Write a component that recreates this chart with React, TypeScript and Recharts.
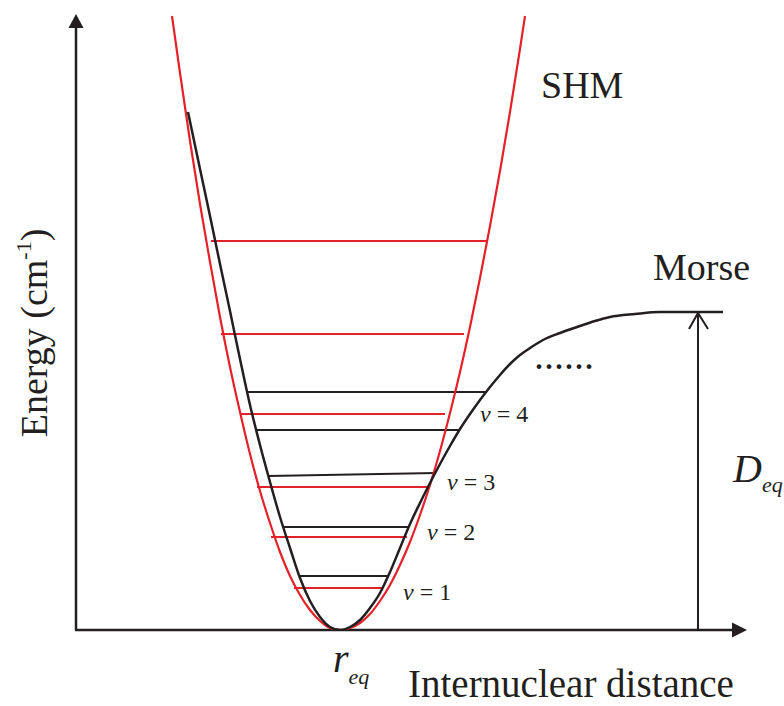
import React from "react";
import { LineChart, Line, XAxis, YAxis, ReferenceLine, ReferenceDot } from "recharts";

// x = internuclear distance (arbitrary units from the energy axis), e = energy (arbitrary units)
const shmX = [96, 104, 114, 124, 134, 144, 154, 164, 174, 184, 194, 204, 214, 224, 234, 244, 254, 264, 274, 284, 294, 304, 314, 324, 334, 344, 354, 364, 374, 384, 394, 404, 414, 424, 434, 444, 449];
const shmE = [614, 557, 489, 426, 368, 313, 263, 218, 176, 139, 107, 78, 54, 35, 20, 9, 2, 0, 2, 7, 16, 29, 45, 65, 88, 115, 145, 179, 217, 258, 303, 352, 404, 459, 518, 581, 614];

const morseX = [112, 124, 134, 144, 154, 164, 174, 184, 194, 204, 214, 224, 234, 244, 254, 264, 274, 284, 294, 304, 314, 324, 334, 344, 354, 364, 374, 384, 394, 404, 414, 424, 434, 444, 454, 467, 484, 501, 519, 534, 559, 584, 614, 647];
const morseE = [518, 461, 414, 366, 319, 271, 225, 185, 148, 113, 82, 52, 29, 13, 3, 0, 3, 10, 22, 37, 58, 82, 106, 127, 147, 166, 184, 201, 216, 230, 243, 255, 266, 275, 282, 290, 297, 303, 309, 313, 316, 318, 318, 318];

// SHM levels (red)
const shmLevelE = [389, 296, 216, 143, 93, 42];
const shmLevelLeft = [135, 145, 164, 181, 195, 218];
const shmLevelRight = [411, 388, 369, 352, 331, 307];

// Morse levels (black); left and right energies differ slightly as drawn
const morseLevelELeft = [238, 200, 154, 103, 54];
const morseLevelERight = [238, 200, 157, 103, 54];
const morseLevelLeft = [171, 180, 192, 207, 223];
const morseLevelRight = [411, 383, 360, 332, 312];

const dissociation = 317;
const vLevels = [4, 3, 2, 1];

const RED = "#e42128";
const INK = "#231f20";
const FONT = "'Liberation Serif', 'Times New Roman', serif";

const shmData = shmX.map((x, i) => ({ x, e: shmE[i] }));
const morseData = morseX.map((x, i) => ({ x, e: morseE[i] }));

const note = (key: string, x: number, y: number, content: React.ReactNode) => (
  <ReferenceDot
    key={key}
    x={x}
    y={y}
    r={0}
    ifOverflow="visible"
    shape={(p: any) => <g transform={`translate(${p.cx},${p.cy})`}>{content}</g>}
  />
);

const vPos: Record<number, [number, number]> = {
  4: [404, 208],
  3: [371, 140],
  2: [351, 90],
  1: [327, 30],
};

export default function App() {
  return (
    <div style={{ position: "absolute", left: 0, top: 0, background: "#fff" }}>
      <LineChart width={784} height={706} margin={{ top: 10, right: 8, bottom: 76, left: 76 }}>
        <XAxis type="number" dataKey="x" domain={[0, 700]} hide allowDataOverflow />
        <YAxis type="number" domain={[0, 620]} hide allowDataOverflow />

        {/* axes */}
        <ReferenceLine segment={[{ x: 0, y: 0 }, { x: 0, y: 603 }]} stroke={INK} strokeWidth={2.5} ifOverflow="visible" />
        <ReferenceLine segment={[{ x: -1, y: 0 }, { x: 658, y: 0 }]} stroke={INK} strokeWidth={2.5} ifOverflow="visible" />
        <ReferenceDot
          x={0}
          y={616}
          r={0}
          ifOverflow="visible"
          shape={(p: any) => (
            <path d={`M${p.cx},${p.cy} L${p.cx - 7.5},${p.cy + 14} L${p.cx + 7.5},${p.cy + 14} Z`} fill={INK} />
          )}
        />
        <ReferenceDot
          x={671}
          y={0}
          r={0}
          ifOverflow="visible"
          shape={(p: any) => (
            <path d={`M${p.cx},${p.cy} L${p.cx - 15},${p.cy - 7.5} L${p.cx - 15},${p.cy + 7.5} Z`} fill={INK} />
          )}
        />

        {/* dissociation energy arrow */}
        <ReferenceLine segment={[{ x: 622, y: 0 }, { x: 622, y: dissociation }]} stroke={INK} strokeWidth={2} ifOverflow="visible" />
        <ReferenceDot
          x={622}
          y={dissociation}
          r={0}
          ifOverflow="visible"
          shape={(p: any) => (
            <path
              d={`M${p.cx - 9},${p.cy + 16} L${p.cx},${p.cy} L${p.cx + 10},${p.cy + 16}`}
              fill="none"
              stroke={INK}
              strokeWidth={2}
            />
          )}
        />

        {shmLevelE.map((e, i) => (
          <ReferenceLine
            key={`s${i}`}
            segment={[{ x: shmLevelLeft[i], y: e }, { x: shmLevelRight[i], y: e }]}
            stroke={RED}
            strokeWidth={2}
            ifOverflow="visible"
          />
        ))}
        {morseLevelELeft.map((e, i) => (
          <ReferenceLine
            key={`m${i}`}
            segment={[{ x: morseLevelLeft[i], y: e }, { x: morseLevelRight[i], y: morseLevelERight[i] }]}
            stroke={INK}
            strokeWidth={2}
            ifOverflow="visible"
          />
        ))}

        <Line data={shmData} dataKey="e" type="monotone" stroke={RED} strokeWidth={2.2} dot={false} isAnimationActive={false} />
        <Line data={morseData} dataKey="e" type="monotone" stroke={INK} strokeWidth={2.5} dot={false} isAnimationActive={false} />

        {note("shm", 465, 532, <text fontFamily={FONT} fontSize={38} fill={INK}>SHM</text>)}
        {note("morse", 577, 350, <text fontFamily={FONT} fontSize={38} fill={INK}>Morse</text>)}
        {note("dots", 458, 261, <text fontFamily={FONT} fontSize={40} fill={INK}>......</text>)}
        {note("xlab", 332, -67, <text fontFamily={FONT} fontSize={39} fill={INK}>Internuclear distance</text>)}
        {note(
          "req",
          257,
          -42,
          <text fontFamily={FONT} fill={INK} fontStyle="italic">
            <tspan fontSize={40}>r</tspan>
            <tspan fontSize={22} dy={12}>eq</tspan>
          </text>
        )}
        {note(
          "deq",
          657,
          148,
          <text fontFamily={FONT} fill={INK} fontStyle="italic">
            <tspan fontSize={40}>D</tspan>
            <tspan fontSize={22} dy={10}>eq</tspan>
          </text>
        )}
        {note(
          "ylab",
          -29,
          297,
          <text fontFamily={FONT} fill={INK} fontSize={38} textAnchor="middle" transform="rotate(-90)">
            Energy (cm
            <tspan fontSize={22} dy={-16}>-1</tspan>
            <tspan dy={16}>)</tspan>
          </text>
        )}
        {vLevels.map((v) =>
          note(
            `v${v}`,
            vPos[v][0],
            vPos[v][1],
            <text fontFamily={FONT} fontSize={24} fill={INK}>
              <tspan fontStyle="italic">v</tspan> = {v}
            </text>
          )
        )}
      </LineChart>
    </div>
  );
}
